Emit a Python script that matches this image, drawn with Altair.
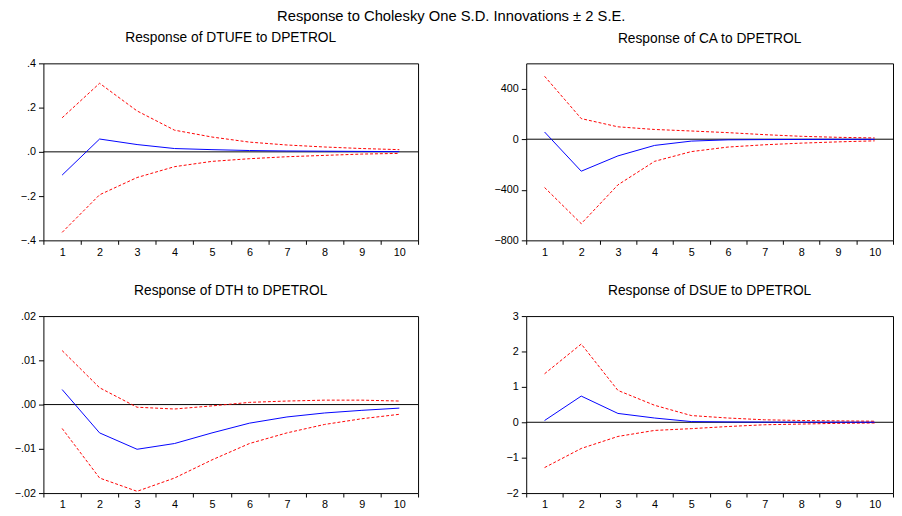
import altair as alt
import pandas as pd

steps = list(range(1, 11))

dtufe_resp = [-0.105, 0.058, 0.033, 0.015, 0.010, 0.006, 0.004, 0.003, 0.002, 0.001]
dtufe_up = [0.154, 0.310, 0.185, 0.098, 0.067, 0.044, 0.031, 0.022, 0.015, 0.010]
dtufe_lo = [-0.364, -0.194, -0.116, -0.067, -0.043, -0.031, -0.022, -0.016, -0.010, -0.007]

ca_resp = [57, -253, -132, -49, -15, -5, -3, -2, -1, -1]
ca_up = [498, 163, 98, 77, 65, 52, 36, 23, 15, 10]
ca_lo = [-382, -668, -361, -175, -98, -62, -44, -31, -21, -13]

dth_resp = [0.0034, -0.0064, -0.0101, -0.0088, -0.0064, -0.0042, -0.0028, -0.0019, -0.0013, -0.0008]
dth_up = [0.0122, 0.0038, -0.0006, -0.0010, -0.0003, 0.0005, 0.0008, 0.0010, 0.0010, 0.0008]
dth_lo = [-0.0054, -0.0166, -0.0196, -0.0166, -0.0125, -0.0088, -0.0064, -0.0045, -0.0032, -0.0022]

dsue_resp = [0.05, 0.74, 0.25, 0.12, 0.02, 0.01, 0.005, 0.003, 0.002, 0.001]
dsue_up = [1.37, 2.21, 0.90, 0.48, 0.19, 0.12, 0.07, 0.05, 0.04, 0.03]
dsue_lo = [-1.28, -0.74, -0.40, -0.23, -0.18, -0.12, -0.07, -0.05, -0.03, -0.02]

FONT = "Liberation Sans"


def panel(title, resp, up, lo, domain, ticks, label_expr, width, yext, title_offset):
    df = pd.DataFrame({
        "step": steps * 3,
        "value": resp + up + lo,
        "series": ["Response"] * 10 + ["Upper"] * 10 + ["Lower"] * 10,
    })
    x = alt.X(
        "step:O",
        bandPosition=0.5,
        scale=alt.Scale(type="band", paddingInner=0, paddingOuter=0),
        axis=alt.Axis(title=None, labelAngle=0, tickBand="extent", tickSize=4,
                      domain=False, labelFontSize=11, labelColor="black",
                      tickColor="black", labelFont=FONT, labelPadding=2),
    )
    axis_kw = dict(title=None, values=ticks, grid=False, tickSize=5, domain=False,
                   labelFontSize=11, labelColor="black", tickColor="black",
                   labelFont=FONT, labelPadding=3, minExtent=yext, maxExtent=yext,
                   labelOverlap=False)
    if label_expr:
        axis_kw["labelExpr"] = label_expr
    yscale = alt.Scale(domain=domain, nice=False, zero=False)
    y = alt.Y("value:Q", scale=yscale, axis=alt.Axis(**axis_kw))
    base = alt.Chart(df)
    zero = alt.Chart(pd.DataFrame({"value": [0]})).mark_rule(color="black", strokeWidth=1).encode(
        y=y)
    bands = base.transform_filter(alt.datum.series != "Response").mark_line(
        color="#ff0000", strokeWidth=1, strokeDash=[3, 2]).encode(x=x, y=y, detail="series:N")
    line = base.transform_filter(alt.datum.series == "Response").mark_line(
        color="#0000ff", strokeWidth=1).encode(x=x, y=y)
    return alt.layer(zero, bands, line).properties(
        width=width, height=180,
        title=alt.TitleParams(title, fontSize=14, fontWeight="normal", font=FONT,
                              anchor="middle", color="black", offset=title_offset),
    )


p1 = panel("Response of DTUFE to DPETROL", dtufe_resp, dtufe_up, dtufe_lo,
           [-0.4, 0.4], [-0.4, -0.2, 0, 0.2, 0.4],
           "replace(format(datum.value, '.1f'), '0.', '.')", 381, 35, 13)
p2 = panel("Response of CA to DPETROL", ca_resp, ca_up, ca_lo,
           [-800, 600], [-800, -400, 0, 400], None, 373, 40, 18)
p3 = panel("Response of DTH to DPETROL", dth_resp, dth_up, dth_lo,
           [-0.02, 0.02], [-0.02, -0.01, 0, 0.01, 0.02],
           "replace(format(datum.value, '.2f'), '0.', '.')", 381, 35, 12)
p4 = panel("Response of DSUE to DPETROL", dsue_resp, dsue_up, dsue_lo,
           [-2, 3], [-2, -1, 0, 1, 2, 3], None, 373, 40, 12)

chart = alt.vconcat(
    alt.hconcat(p1, p2, spacing=68),
    alt.hconcat(p3, p4, spacing=68),
    spacing=26,
).properties(
    padding={"left": 0, "top": -4, "right": 0, "bottom": 0},
    title=alt.TitleParams("Response to Cholesky One S.D. Innovations ± 2 S.E.",
                          fontSize=15, fontWeight="normal", font=FONT, anchor="middle",
                          color="black", offset=7),
).configure_view(stroke="black", strokeWidth=1)

chart.save("out.html", embed_options={"renderer": "svg", "actions": False})
